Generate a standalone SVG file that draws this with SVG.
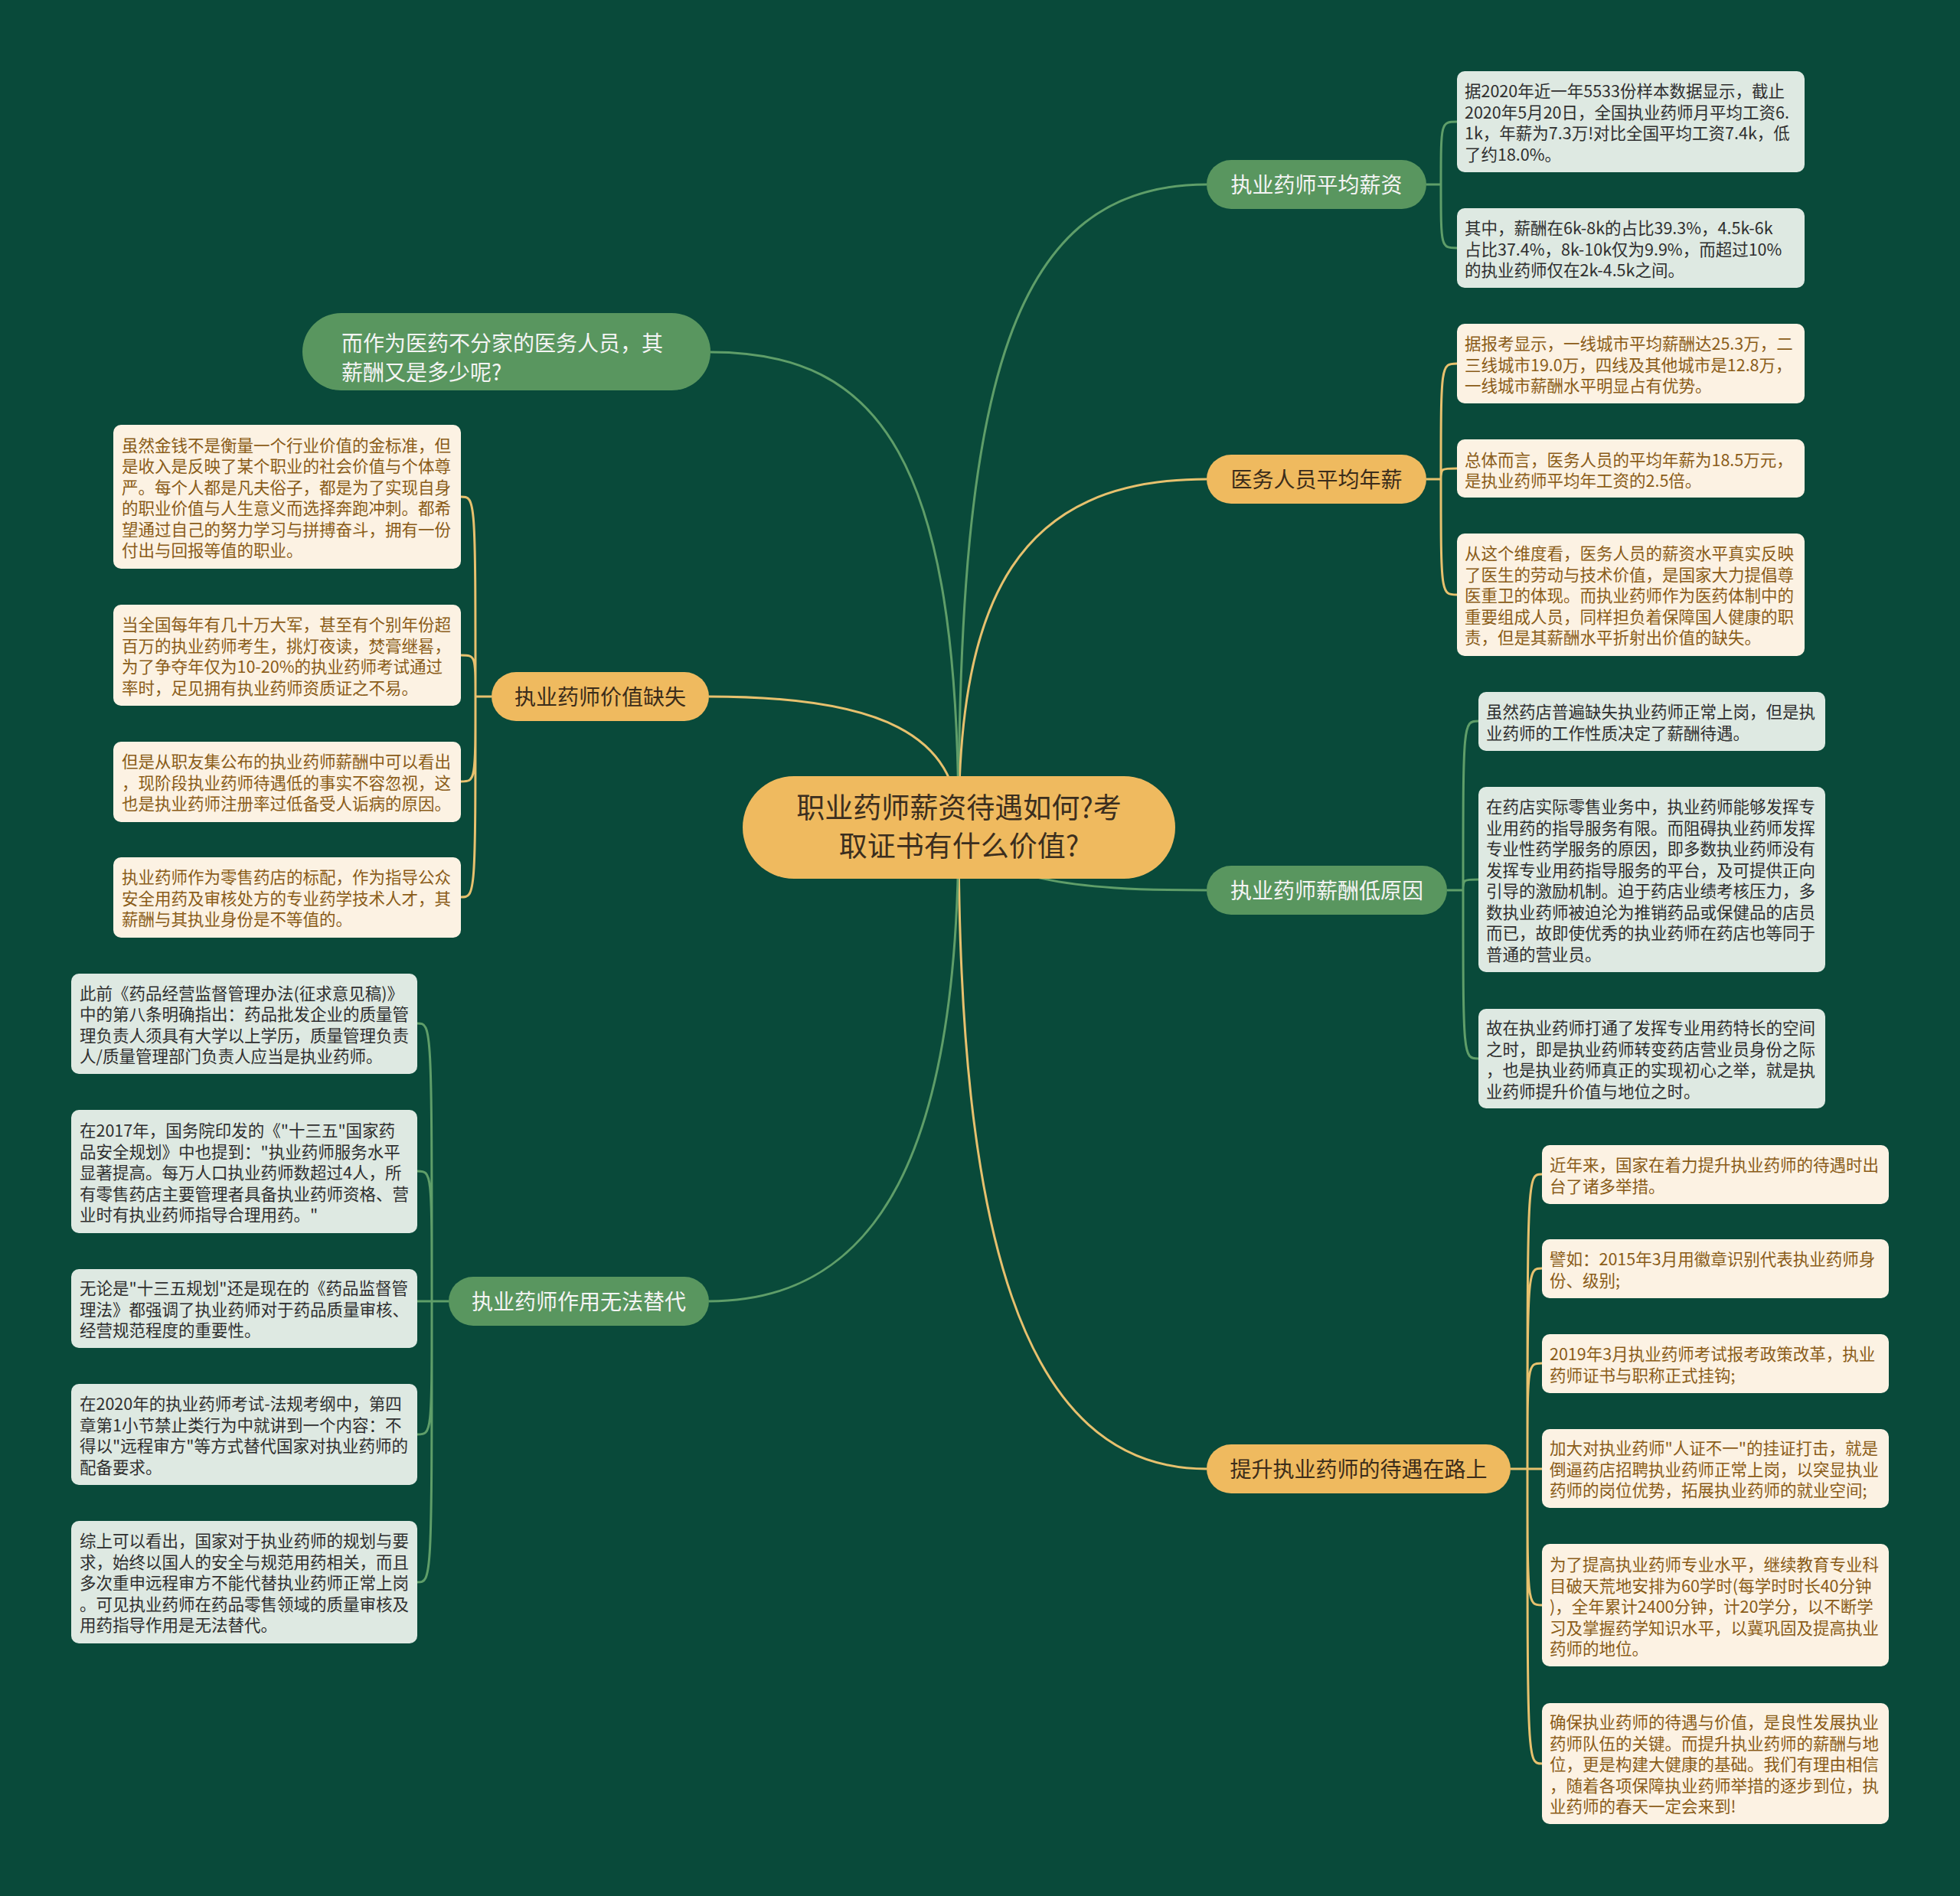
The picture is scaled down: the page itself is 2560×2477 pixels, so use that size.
<svg xmlns="http://www.w3.org/2000/svg" width="2560" height="2477" viewBox="0 0 2560 2477">
<style>
text{font-family:"Noto Sans CJK SC","Noto Sans",sans-serif}
.lt{font-size:21.5px}
.lg{fill:#dee9e2}
.ly{fill:#fcf2e3}
.tg{fill:#2f2f2f}
.ty{fill:#8a5c18}
.pg{fill:#59965f}
.py{fill:#efba5f}
.ptg{fill:#f4f4f4;font-size:28px}
.pty{fill:#3b2c1a;font-size:28px}
.cg{stroke:#5f9e69;stroke-width:3;fill:none}
.cy{stroke:#e7c16e;stroke-width:3;fill:none}
</style>
<rect x="0" y="0" width="2560" height="2477" fill="#094a3a"/>
<g id="connectors">
<path class="cg" d="M1252,1081 C1252,500 1320,241 1576,241"/>
<path class="cy" d="M1252,1081 C1252,780 1330,626 1576,626"/>
<path class="cg" d="M1252,1081 C1290,1150 1400,1163 1576,1163"/>
<path class="cy" d="M1252,1081 C1252,1600 1330,1919 1576,1919"/>
<path class="cg" d="M1252,1081 C1252,600 1150,460 928,460"/>
<path class="cy" d="M1252,1081 C1252,960 1150,910 926,910"/>
<path class="cg" d="M1252,1081 C1252,1500 1150,1700 926,1700"/>
<path class="cg" d="M1863,241 H1882 M1882,241 C1882,159 1882,159 1903,159 M1882,241 C1882,324 1882,324 1903,324"/>
<path class="cy" d="M1863,626 H1882 M1882,626 C1882,475 1882,475 1903,475 M1882,626 C1882,612 1882,612 1903,612 M1882,626 C1882,777 1882,777 1903,777"/>
<path class="cg" d="M1890,1163 H1911 M1911,1163 C1911,942 1911,942 1931,942 M1911,1163 C1911,1149 1911,1149 1931,1149 M1911,1163 C1911,1383 1911,1383 1931,1383"/>
<path class="cy" d="M1973,1919 H1995 M1995,1919 C1995,1534 1995,1534 2014,1534 M1995,1919 C1995,1657 1995,1657 2014,1657 M1995,1919 C1995,1781 1995,1781 2014,1781 M1995,1919 H2014 M1995,1919 C1995,2097 1995,2097 2014,2097 M1995,1919 C1995,2304 1995,2304 2014,2304"/>
<path class="cy" d="M642,910 H621 M621,910 C621,649 621,649 602,649 M621,910 C621,856 621,856 602,856 M621,910 C621,1021 621,1021 602,1021 M621,910 C621,1172 621,1172 602,1172"/>
<path class="cg" d="M586,1700 H564 M564,1700 C564,1337 564,1337 545,1337 M564,1700 C564,1530 564,1530 545,1530 M564,1700 H545 M564,1700 C564,1874 564,1874 545,1874 M564,1700 C564,2067 564,2067 545,2067"/>
</g>

<g id="center">
<rect x="970" y="1014" width="565" height="134" rx="67" fill="#efba5f"/>
<text x="1252.5" y="1069" text-anchor="middle" font-size="37" fill="#3b2e1e">职业药师薪资待遇如何?考</text>
<text x="1252.5" y="1119" text-anchor="middle" font-size="37" fill="#3b2e1e">取证书有什么价值?</text>
</g>

<g id="b1">
<rect class="pg" x="1576" y="209" width="287" height="64" rx="32"/>
<text class="ptg" x="1719.5" y="251.6" text-anchor="middle">执业药师平均薪资</text>
</g>
<g id="b1l1">
<rect class="lg" x="1903" y="93" width="454" height="132" rx="10"/>
<text class="lt tg" x="1913" y="127"><tspan x="1913">据2020年近一年5533份样本数据显示，截止</tspan><tspan x="1913" dy="27.5">2020年5月20日，全国执业药师月平均工资6.</tspan><tspan x="1913" dy="27.5">1k，年薪为7.3万!对比全国平均工资7.4k，低</tspan><tspan x="1913" dy="27.5">了约18.0%。</tspan></text>
</g>
<g id="b1l2">
<rect class="lg" x="1903" y="272" width="454" height="104" rx="10"/>
<text class="lt tg" x="1913" y="306"><tspan x="1913">其中，薪酬在6k-8k的占比39.3%，4.5k-6k</tspan><tspan x="1913" dy="27.5">占比37.4%，8k-10k仅为9.9%，而超过10%</tspan><tspan x="1913" dy="27.5">的执业药师仅在2k-4.5k之间。</tspan></text>
</g>

<g id="b2">
<rect class="py" x="1576" y="594" width="287" height="64" rx="32"/>
<text class="pty" x="1719.5" y="636.6" text-anchor="middle">医务人员平均年薪</text>
</g>
<g id="b2l1">
<rect class="ly" x="1903" y="423" width="454" height="104" rx="10"/>
<text class="lt ty" x="1913" y="457"><tspan x="1913">据报考显示，一线城市平均薪酬达25.3万，二</tspan><tspan x="1913" dy="27.5">三线城市19.0万，四线及其他城市是12.8万，</tspan><tspan x="1913" dy="27.5">一线城市薪酬水平明显占有优势。</tspan></text>
</g>
<g id="b2l2">
<rect class="ly" x="1903" y="574" width="454" height="76" rx="10"/>
<text class="lt ty" x="1913" y="608.5"><tspan x="1913">总体而言，医务人员的平均年薪为18.5万元，</tspan><tspan x="1913" dy="27.5">是执业药师平均年工资的2.5倍。</tspan></text>
</g>
<g id="b2l3">
<rect class="ly" x="1903" y="697" width="454" height="160" rx="10"/>
<text class="lt ty" x="1913" y="731"><tspan x="1913">从这个维度看，医务人员的薪资水平真实反映</tspan><tspan x="1913" dy="27.5">了医生的劳动与技术价值，是国家大力提倡尊</tspan><tspan x="1913" dy="27.5">医重卫的体现。而执业药师作为医药体制中的</tspan><tspan x="1913" dy="27.5">重要组成人员，同样担负着保障国人健康的职</tspan><tspan x="1913" dy="27.5">责，但是其薪酬水平折射出价值的缺失。</tspan></text>
</g>

<g id="b3">
<rect class="pg" x="1576" y="1131" width="314" height="64" rx="32"/>
<text class="ptg" x="1733" y="1173.6" text-anchor="middle">执业药师薪酬低原因</text>
</g>
<g id="b3l1">
<rect class="lg" x="1931" y="904" width="453" height="77" rx="10"/>
<text class="lt tg" x="1941" y="938"><tspan x="1941">虽然药店普遍缺失执业药师正常上岗，但是执</tspan><tspan x="1941" dy="27.5">业药师的工作性质决定了薪酬待遇。</tspan></text>
</g>
<g id="b3l2">
<rect class="lg" x="1931" y="1028" width="453" height="242" rx="10"/>
<text class="lt tg" x="1941" y="1062"><tspan x="1941">在药店实际零售业务中，执业药师能够发挥专</tspan><tspan x="1941" dy="27.5">业用药的指导服务有限。而阻碍执业药师发挥</tspan><tspan x="1941" dy="27.5">专业性药学服务的原因，即多数执业药师没有</tspan><tspan x="1941" dy="27.5">发挥专业用药指导服务的平台，及可提供正向</tspan><tspan x="1941" dy="27.5">引导的激励机制。迫于药店业绩考核压力，多</tspan><tspan x="1941" dy="27.5">数执业药师被迫沦为推销药品或保健品的店员</tspan><tspan x="1941" dy="27.5">而已，故即使优秀的执业药师在药店也等同于</tspan><tspan x="1941" dy="27.5">普通的营业员。</tspan></text>
</g>
<g id="b3l3">
<rect class="lg" x="1931" y="1318" width="453" height="130" rx="10"/>
<text class="lt tg" x="1941" y="1351"><tspan x="1941">故在执业药师打通了发挥专业用药特长的空间</tspan><tspan x="1941" dy="27.5">之时，即是执业药师转变药店营业员身份之际</tspan><tspan x="1941" dy="27.5">，也是执业药师真正的实现初心之举，就是执</tspan><tspan x="1941" dy="27.5">业药师提升价值与地位之时。</tspan></text>
</g>

<g id="b4">
<rect class="py" x="1576" y="1887" width="397" height="64" rx="32"/>
<text class="pty" x="1774.5" y="1929.6" text-anchor="middle">提升执业药师的待遇在路上</text>
</g>
<g id="b4l1">
<rect class="ly" x="2014" y="1496" width="453" height="77" rx="10"/>
<text class="lt ty" x="2024" y="1530"><tspan x="2024">近年来，国家在着力提升执业药师的待遇时出</tspan><tspan x="2024" dy="27.5">台了诸多举措。</tspan></text>
</g>
<g id="b4l2">
<rect class="ly" x="2014" y="1619" width="453" height="77" rx="10"/>
<text class="lt ty" x="2024" y="1653"><tspan x="2024">譬如：2015年3月用徽章识别代表执业药师身</tspan><tspan x="2024" dy="27.5">份、级别;</tspan></text>
</g>
<g id="b4l3">
<rect class="ly" x="2014" y="1743" width="453" height="77" rx="10"/>
<text class="lt ty" x="2024" y="1777"><tspan x="2024">2019年3月执业药师考试报考政策改革，执业</tspan><tspan x="2024" dy="27.5">药师证书与职称正式挂钩;</tspan></text>
</g>
<g id="b4l4">
<rect class="ly" x="2014" y="1867" width="453" height="103" rx="10"/>
<text class="lt ty" x="2024" y="1900"><tspan x="2024">加大对执业药师"人证不一"的挂证打击，就是</tspan><tspan x="2024" dy="27.5">倒逼药店招聘执业药师正常上岗，以突显执业</tspan><tspan x="2024" dy="27.5">药师的岗位优势，拓展执业药师的就业空间;</tspan></text>
</g>
<g id="b4l5">
<rect class="ly" x="2014" y="2017" width="453" height="160" rx="10"/>
<text class="lt ty" x="2024" y="2052"><tspan x="2024">为了提高执业药师专业水平，继续教育专业科</tspan><tspan x="2024" dy="27.5">目破天荒地安排为60学时(每学时时长40分钟</tspan><tspan x="2024" dy="27.5">)，全年累计2400分钟，计20学分，以不断学</tspan><tspan x="2024" dy="27.5">习及掌握药学知识水平，以冀巩固及提高执业</tspan><tspan x="2024" dy="27.5">药师的地位。</tspan></text>
</g>
<g id="b4l6">
<rect class="ly" x="2014" y="2225" width="453" height="158" rx="10"/>
<text class="lt ty" x="2024" y="2258"><tspan x="2024">确保执业药师的待遇与价值，是良性发展执业</tspan><tspan x="2024" dy="27.5">药师队伍的关键。而提升执业药师的薪酬与地</tspan><tspan x="2024" dy="27.5">位，更是构建大健康的基础。我们有理由相信</tspan><tspan x="2024" dy="27.5">，随着各项保障执业药师举措的逐步到位，执</tspan><tspan x="2024" dy="27.5">业药师的春天一定会来到!</tspan></text>
</g>

<g id="b5">
<rect class="pg" x="395" y="409" width="533" height="101" rx="50.5"/>
<text class="ptg" x="446" y="458.6">而作为医药不分家的医务人员，其</text>
<text class="ptg" x="446" y="496.6">薪酬又是多少呢?</text>
</g>

<g id="b6">
<rect class="py" x="642" y="878" width="284" height="64" rx="32"/>
<text class="pty" x="784" y="920.6" text-anchor="middle">执业药师价值缺失</text>
</g>
<g id="b6l1">
<rect class="ly" x="148" y="555" width="454" height="188" rx="10"/>
<text class="lt ty" x="159" y="589.5"><tspan x="159">虽然金钱不是衡量一个行业价值的金标准，但</tspan><tspan x="159" dy="27.5">是收入是反映了某个职业的社会价值与个体尊</tspan><tspan x="159" dy="27.5">严。每个人都是凡夫俗子，都是为了实现自身</tspan><tspan x="159" dy="27.5">的职业价值与人生意义而选择奔跑冲刺。都希</tspan><tspan x="159" dy="27.5">望通过自己的努力学习与拼搏奋斗，拥有一份</tspan><tspan x="159" dy="27.5">付出与回报等值的职业。</tspan></text>
</g>
<g id="b6l2">
<rect class="ly" x="148" y="790" width="454" height="132" rx="10"/>
<text class="lt ty" x="159" y="824"><tspan x="159">当全国每年有几十万大军，甚至有个别年份超</tspan><tspan x="159" dy="27.5">百万的执业药师考生，挑灯夜读，焚膏继晷，</tspan><tspan x="159" dy="27.5">为了争夺年仅为10-20%的执业药师考试通过</tspan><tspan x="159" dy="27.5">率时，足见拥有执业药师资质证之不易。</tspan></text>
</g>
<g id="b6l3">
<rect class="ly" x="148" y="969" width="454" height="105" rx="10"/>
<text class="lt ty" x="159" y="1003"><tspan x="159">但是从职友集公布的执业药师薪酬中可以看出</tspan><tspan x="159" dy="27.5">，现阶段执业药师待遇低的事实不容忽视，这</tspan><tspan x="159" dy="27.5">也是执业药师注册率过低备受人诟病的原因。</tspan></text>
</g>
<g id="b6l4">
<rect class="ly" x="148" y="1120" width="454" height="105" rx="10"/>
<text class="lt ty" x="159" y="1154"><tspan x="159">执业药师作为零售药店的标配，作为指导公众</tspan><tspan x="159" dy="27.5">安全用药及审核处方的专业药学技术人才，其</tspan><tspan x="159" dy="27.5">薪酬与其执业身份是不等值的。</tspan></text>
</g>

<g id="b7">
<rect class="pg" x="586" y="1668" width="340" height="64" rx="32"/>
<text class="ptg" x="756" y="1710.6" text-anchor="middle">执业药师作用无法替代</text>
</g>
<g id="b7l1">
<rect class="lg" x="93" y="1272" width="452" height="131" rx="10"/>
<text class="lt tg" x="104" y="1305.5"><tspan x="104">此前《药品经营监督管理办法(征求意见稿)》</tspan><tspan x="104" dy="27.5">中的第八条明确指出：药品批发企业的质量管</tspan><tspan x="104" dy="27.5">理负责人须具有大学以上学历，质量管理负责</tspan><tspan x="104" dy="27.5">人/质量管理部门负责人应当是执业药师。</tspan></text>
</g>
<g id="b7l2">
<rect class="lg" x="93" y="1450" width="452" height="161" rx="10"/>
<text class="lt tg" x="104" y="1485"><tspan x="104">在2017年，国务院印发的《"十三五"国家药</tspan><tspan x="104" dy="27.5">品安全规划》中也提到："执业药师服务水平</tspan><tspan x="104" dy="27.5">显著提高。每万人口执业药师数超过4人，所</tspan><tspan x="104" dy="27.5">有零售药店主要管理者具备执业药师资格、营</tspan><tspan x="104" dy="27.5">业时有执业药师指导合理用药。"</tspan></text>
</g>
<g id="b7l3">
<rect class="lg" x="93" y="1658" width="452" height="103" rx="10"/>
<text class="lt tg" x="104" y="1691"><tspan x="104">无论是"十三五规划"还是现在的《药品监督管</tspan><tspan x="104" dy="27.5">理法》都强调了执业药师对于药品质量审核、</tspan><tspan x="104" dy="27.5">经营规范程度的重要性。</tspan></text>
</g>
<g id="b7l4">
<rect class="lg" x="93" y="1808" width="452" height="132" rx="10"/>
<text class="lt tg" x="104" y="1842"><tspan x="104">在2020年的执业药师考试-法规考纲中，第四</tspan><tspan x="104" dy="27.5">章第1小节禁止类行为中就讲到一个内容：不</tspan><tspan x="104" dy="27.5">得以"远程审方"等方式替代国家对执业药师的</tspan><tspan x="104" dy="27.5">配备要求。</tspan></text>
</g>
<g id="b7l5">
<rect class="lg" x="93" y="1987" width="452" height="160" rx="10"/>
<text class="lt tg" x="104" y="2021"><tspan x="104">综上可以看出，国家对于执业药师的规划与要</tspan><tspan x="104" dy="27.5">求，始终以国人的安全与规范用药相关，而且</tspan><tspan x="104" dy="27.5">多次重申远程审方不能代替执业药师正常上岗</tspan><tspan x="104" dy="27.5">。可见执业药师在药品零售领域的质量审核及</tspan><tspan x="104" dy="27.5">用药指导作用是无法替代。</tspan></text>
</g>
</svg>
